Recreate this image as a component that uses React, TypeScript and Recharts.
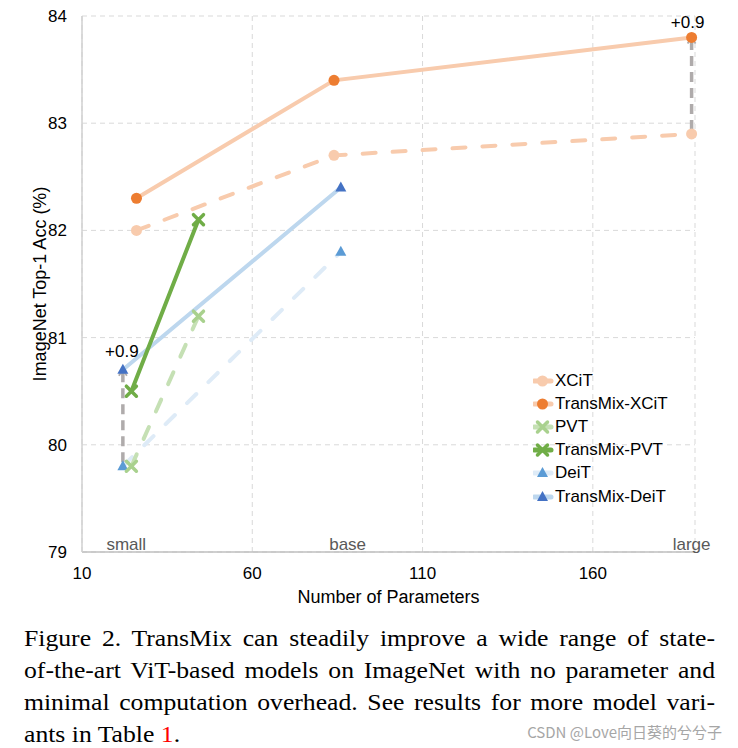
import React from 'react';
import {
    LineChart,
    Line,
    XAxis,
    YAxis,
    CartesianGrid,
    Legend,
    ReferenceLine,
    ReferenceDot,
} from 'recharts';

// parameters (M) and ImageNet top-1 accuracy (%)
const xcitParams = [26, 84, 189];
const xcitAcc = [82.0, 82.7, 82.9];
const transmixXcitAcc = [82.3, 83.4, 83.8];

const pvtParams = [24.5, 44.2];
const pvtAcc = [79.8, 81.2];
const transmixPvtAcc = [80.5, 82.1];

const deitParams = [22, 86];
const deitAcc = [79.8, 81.8];
const transmixDeitAcc = [80.7, 82.4];

const xTicks = [10, 60, 110, 160];
const yTicks = [79, 80, 81, 82, 83, 84];

const sizeNames = ['small', 'base', 'large'];
const sizeParams = [23, 88, 189];

const gainLabels = ['+0.9', '+0.9'];
const gainParams = [22, 189];
const gainFrom = [79.8, 82.9];
const gainTo = [80.7, 83.8];

const toPoints = (xs: number[], ys: number[]) => xs.map((x, i) => ({ x, y: ys[i] }));

const FONT = '"Liberation Sans", Arial, Helvetica, sans-serif';

type MarkerKind = 'circle' | 'cross' | 'triangle';

const drawMarker = (kind: MarkerKind, color: string, cx: number, cy: number, key?: any) => {
    if (kind === 'circle') {
        return <circle key={key} cx={cx} cy={cy} r={5.5} fill={color} stroke="none" />;
    }
    if (kind === 'cross') {
        const s = 5;
        return (
            <g key={key} stroke={color} strokeWidth={3.5} strokeLinecap="round">
                <line x1={cx - s} y1={cy - s} x2={cx + s} y2={cy + s} />
                <line x1={cx - s} y1={cy + s} x2={cx + s} y2={cy - s} />
            </g>
        );
    }
    return (
        <path
            key={key}
            d={`M${cx},${cy - 6} L${cx + 5.5},${cy + 4} L${cx - 5.5},${cy + 4} Z`}
            fill={color}
        />
    );
};

const series = [
    { name: 'XCiT', data: toPoints(xcitParams, xcitAcc), line: '#F8CBAD', marker: '#F8CBAD', kind: 'circle' as MarkerKind, dashed: true },
    { name: 'TransMix-XCiT', data: toPoints(xcitParams, transmixXcitAcc), line: '#F8CBAD', marker: '#ED7D31', kind: 'circle' as MarkerKind, dashed: false },
    { name: 'PVT', data: toPoints(pvtParams, pvtAcc), line: '#C5E0B4', marker: '#A9D18E', kind: 'cross' as MarkerKind, dashed: true },
    { name: 'TransMix-PVT', data: toPoints(pvtParams, transmixPvtAcc), line: '#70AD47', marker: '#70AD47', kind: 'cross' as MarkerKind, dashed: false },
    { name: 'DeiT', data: toPoints(deitParams, deitAcc), line: '#DEEBF7', marker: '#5B9BD5', kind: 'triangle' as MarkerKind, dashed: true },
    { name: 'TransMix-DeiT', data: toPoints(deitParams, transmixDeitAcc), line: '#BDD7EE', marker: '#4472C4', kind: 'triangle' as MarkerKind, dashed: false },
];

// draw order: blue, orange, green on top
const drawOrder = [4, 5, 0, 1, 2, 3];

const GainArrow = (props: any) => {
    const { x1, y1, x2, y2 } = props;
    const top = Math.min(y1, y2);
    const bottom = Math.max(y1, y2);
    return (
        <g>
            <line x1={x1} y1={bottom - 4} x2={x2} y2={top + 2} stroke="#AFABAB" strokeWidth={3.5} strokeDasharray="10 6" />
            <polyline
                points={`${x2 - 4},${top + 6} ${x2},${top} ${x2 + 4},${top + 6}`}
                fill="none"
                stroke="#AFABAB"
                strokeWidth={1.8}
            />
        </g>
    );
};

const renderLegend = () => (
    <div style={{ fontFamily: FONT, fontSize: 17, color: '#000' }}>
        {series.map((s) => (
            <div key={s.name} style={{ display: 'flex', alignItems: 'center', height: 23.2 }}>
                <svg width={22} height={20} style={{ display: 'block' }}>
                    <line x1={1} y1={10} x2={18} y2={10} stroke={s.line} strokeWidth={5} strokeLinecap="round" />
                    {drawMarker(s.kind, s.marker, 9.5, 10)}
                </svg>
                <span style={{ lineHeight: '20px' }}>{s.name}</span>
            </div>
        ))}
    </div>
);

const captionLines = [
    'Figure 2. TransMix can steadily improve a wide range of state-',
    'of-the-art ViT-based models on ImageNet with no parameter and',
    'minimal computation overhead. See results for more model vari-',
];

const CAPTION_STRETCH = 1.07;

export default function App() {
    return (
        <div style={{ position: 'absolute', left: 0, top: 0, width: 738, height: 748, background: '#fff', overflow: 'hidden' }}>
            <LineChart
                width={738}
                height={615}
                margin={{ top: 16, right: 43, left: 20, bottom: 5 }}
                style={{ fontFamily: FONT }}
            >
                <CartesianGrid stroke="#D9D9D9" strokeDasharray="5 4" />
                <XAxis
                    dataKey="x"
                    type="number"
                    domain={[10, 190]}
                    ticks={xTicks}
                    allowDuplicatedCategory={false}
                    height={58}
                    tickLine={false}
                    tickSize={0}
                    tickMargin={15}
                    axisLine={{ stroke: '#BFBFBF', strokeWidth: 1.5 }}
                    tick={{ fontSize: 17, fill: '#000', fontFamily: FONT }}
                    label={{ value: 'Number of Parameters', position: 'insideBottom', offset: 7, fontSize: 18, fill: '#000', fontFamily: FONT }}
                />
                <YAxis
                    dataKey="y"
                    type="number"
                    domain={[79, 84]}
                    ticks={yTicks}
                    width={62}
                    tickLine={false}
                    tickSize={0}
                    tickMargin={15}
                    axisLine={{ stroke: '#D0D0D0', strokeWidth: 1.5 }}
                    tick={{ fontSize: 17, fill: '#000', fontFamily: FONT }}
                    label={{
                        value: 'ImageNet Top-1 Acc (%)',
                        angle: -90,
                        position: 'insideLeft',
                        offset: 20,
                        fontSize: 18,
                        fill: '#000',
                        fontFamily: FONT,
                        style: { textAnchor: 'middle' },
                    }}
                />
                {gainParams.map((x, i) => (
                    <ReferenceLine
                        key={`arrow-${i}`}
                        segment={[{ x, y: gainFrom[i] }, { x, y: gainTo[i] }]}
                        shape={(p: any) => <GainArrow {...p} />}
                    />
                ))}
                {drawOrder.map((idx) => {
                    const s = series[idx];
                    return (
                        <Line
                            key={s.name}
                            name={s.name}
                            data={s.data}
                            dataKey="y"
                            type="linear"
                            stroke={s.line}
                            strokeWidth={4}
                            strokeDasharray={s.dashed ? '13 17' : undefined}
                            strokeLinecap="round"
                            isAnimationActive={false}
                            dot={(p: any) => drawMarker(s.kind, s.marker, p.cx, p.cy, `${s.name}-${p.index}`)}
                            activeDot={false}
                        />
                    );
                })}
                {gainParams.map((x, i) => (
                    <ReferenceDot
                        key={`gain-${i}`}
                        x={x}
                        y={gainTo[i]}
                        r={0}
                        fill="none"
                        stroke="none"
                        label={{
                            value: gainLabels[i],
                            position: 'top',
                            offset: i === 0 ? 13 : 9,
                            dx: i === 0 ? -1 : -4,
                            fontSize: 17,
                            fill: '#000',
                            fontFamily: FONT,
                        }}
                    />
                ))}
                {sizeParams.map((x, i) => (
                    <ReferenceDot
                        key={`size-${i}`}
                        x={x}
                        y={79}
                        r={0}
                        fill="none"
                        stroke="none"
                        label={{ value: sizeNames[i], position: 'top', offset: 2, fontSize: 17, fill: '#595959', fontFamily: FONT }}
                    />
                ))}
                <Legend
                    layout="vertical"
                    align="center"
                    verticalAlign="middle"
                    content={renderLegend}
                    wrapperStyle={{ left: 533, top: 369, width: 190, height: 'auto' }}
                />
            </LineChart>

            <div
                style={{
                    position: 'absolute',
                    left: 24,
                    top: 621.5,
                    width: 691 / CAPTION_STRETCH,
                    transform: `scaleX(${CAPTION_STRETCH})`,
                    transformOrigin: 'left top',
                    fontFamily: '"Liberation Serif", "Times New Roman", serif',
                    fontSize: 24,
                    lineHeight: '32.3px',
                    color: '#000',
                }}
            >
                {captionLines.map((t) => (
                    <div key={t} style={{ textAlign: 'justify', textAlignLast: 'justify', whiteSpace: 'nowrap' as any }}>
                        {t}
                    </div>
                ))}
                <div>
                    ants in Table <span style={{ color: '#FF0000' }}>1</span>.
                </div>
            </div>

            <div
                style={{
                    position: 'absolute',
                    right: 16,
                    top: 721,
                    fontFamily: '"Noto Sans CJK SC", "Noto Sans", sans-serif',
                    fontSize: 15,
                    lineHeight: '22px',
                    color: '#A6A6A6',
                }}
            >
                CSDN @Love向日葵的兮兮子
            </div>
        </div>
    );
}
